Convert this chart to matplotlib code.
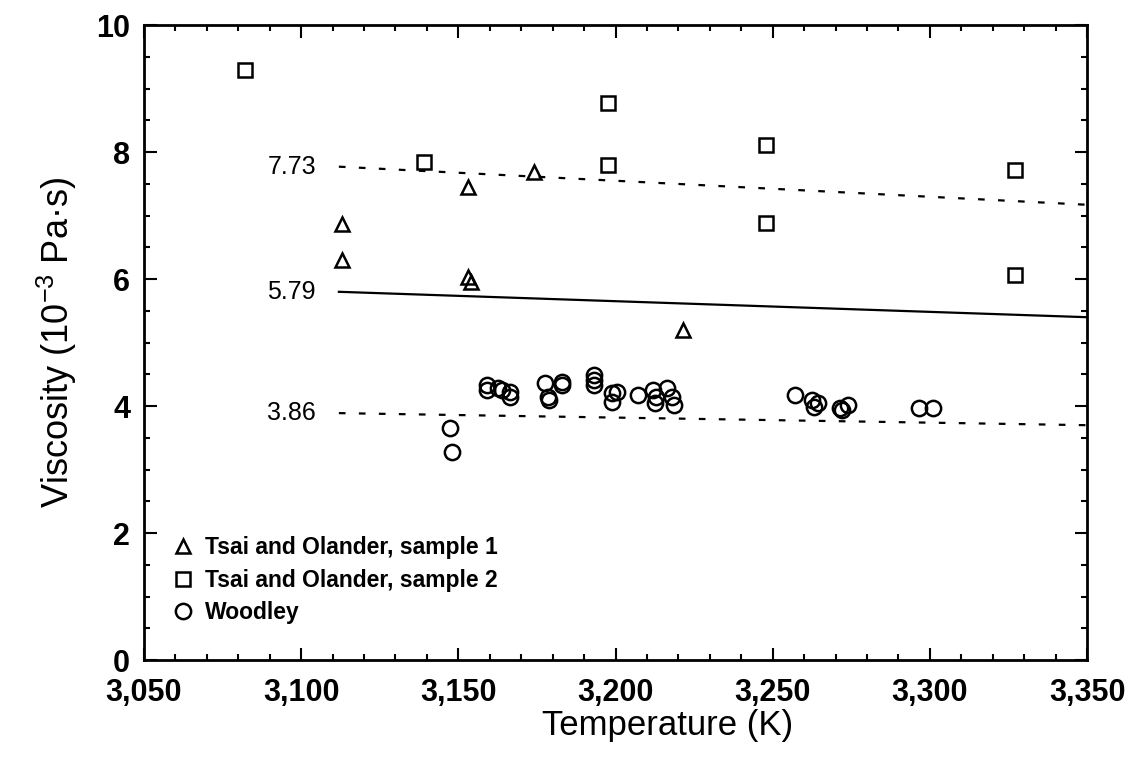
import matplotlib
matplotlib.use("Agg")
import matplotlib.pyplot as plt
from matplotlib.ticker import MultipleLocator, FuncFormatter

plt.rcParams["font.family"] = ["Liberation Sans", "DejaVu Sans"]
plt.rcParams["mathtext.default"] = "regular"

# Tsai and Olander, sample 1 (triangles)
s1_temp = [3113, 3113, 3153, 3153, 3154, 3174, 3221.5]
s1_visc = [6.87, 6.30, 7.45, 6.03, 5.95, 7.68, 5.20]

# Tsai and Olander, sample 2 (squares)
s2_temp = [3082, 3139, 3197.5, 3197.5, 3248, 3248, 3327, 3327]
s2_visc = [9.29, 7.84, 8.77, 7.80, 8.11, 6.88, 7.72, 6.07]

# Woodley (circles)
w_temp = [3147.5, 3148, 3159, 3159, 3162.5, 3164, 3166.5, 3166.5,
          3177.5, 3178.5, 3179, 3183, 3183, 3193, 3193, 3193,
          3199, 3199, 3200.5, 3207, 3212, 3213, 3212.5, 3216.5,
          3218, 3218.5, 3257, 3262.5, 3263, 3264.5, 3271.5, 3274,
          3272, 3296.5, 3301]
w_visc = [3.66, 3.28, 4.33, 4.25, 4.28, 4.25, 4.22, 4.14,
          4.36, 4.14, 4.09, 4.38, 4.33, 4.49, 4.41, 4.33,
          4.20, 4.06, 4.22, 4.17, 4.26, 4.14, 4.05, 4.28,
          4.14, 4.02, 4.17, 4.09, 3.98, 4.05, 3.97, 4.02,
          3.94, 3.97, 3.97]

# fit line and +/- band (start and end values)
line_temp = [3112, 3350]
line_mid = [5.80, 5.40]
line_upper = [7.77, 7.17]
line_lower = [3.89, 3.70]
line_labels = ["7.73", "5.79", "3.86"]

fig = plt.figure(figsize=(11.39, 7.58), dpi=100)
ax = fig.add_axes([0.1264, 0.129, 0.828, 0.838])

mk = dict(linestyle="none", markerfacecolor="none", markeredgecolor="black", markeredgewidth=1.8)
ax.plot(s1_temp, s1_visc, marker="^", markersize=10, label="Tsai and Olander, sample 1", **mk)
ax.plot(s2_temp, s2_visc, marker="s", markersize=10.5, label="Tsai and Olander, sample 2", **mk)
ax.plot(w_temp, w_visc, marker="o", markersize=11, label="Woodley", **mk)

# fitted mean and band lines
ax.plot(line_temp, line_mid, color="black", linewidth=1.6)
ax.plot(line_temp, line_upper, color="black", linewidth=1.6, linestyle=(0, (3, 6)))
ax.plot(line_temp, line_lower, color="black", linewidth=1.6, linestyle=(0, (3, 6)))

# value labels left of the lines
for text, yv in zip(line_labels, [line_upper[0], line_mid[0], line_lower[0]]):
    ax.text(line_temp[0] - 15, yv, text, ha="center", va="center", fontsize=18)

ax.set_xlim(3050, 3350)
ax.set_ylim(0, 10)
ax.xaxis.set_major_locator(MultipleLocator(50))
ax.xaxis.set_minor_locator(MultipleLocator(10))
ax.yaxis.set_major_locator(MultipleLocator(2))
ax.yaxis.set_minor_locator(MultipleLocator(0.5))
ax.xaxis.set_major_formatter(FuncFormatter(lambda v, p: "{:,.0f}".format(v)))
ax.tick_params(which="both", direction="in", top=True, right=True, width=1.5)
ax.tick_params(which="major", length=9, labelsize=22)
ax.tick_params(axis="x", which="major", pad=12.5)
ax.tick_params(axis="y", which="major", pad=10)
ax.tick_params(which="minor", length=4.5)
for lbl in ax.get_xticklabels() + ax.get_yticklabels():
    lbl.set_fontweight("bold")
for sp in ax.spines.values():
    sp.set_linewidth(2)

ax.set_xlabel("Temperature (K)", fontsize=25, va="center")
ax.xaxis.set_label_coords(0.555, -0.103)
ax.set_ylabel("Viscosity (10$^{-3}$ Pa·s)", fontsize=26, labelpad=12)

leg = ax.legend(loc="lower left", bbox_to_anchor=(0.005, 0.025), frameon=False,
                prop={"size": 16.5, "weight": "bold"}, handletextpad=0.35,
                handlelength=1.2, labelspacing=0.4)

fig.savefig("out.png", dpi=100)
